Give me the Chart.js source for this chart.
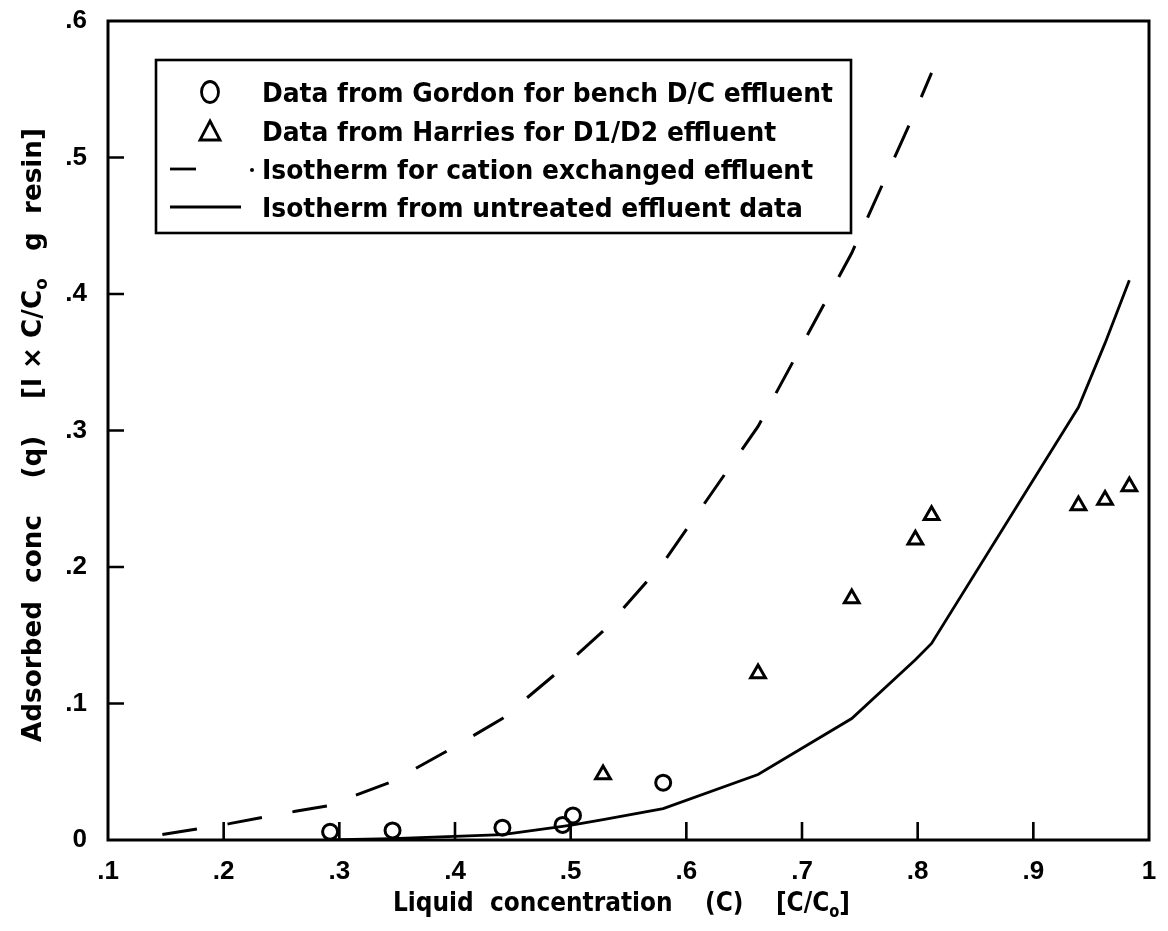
<!DOCTYPE html>
<html>
<head>
<meta charset="utf-8">
<script src="https://cdn.jsdelivr.net/npm/chart.js@4.4.1/dist/chart.umd.min.js"></script>
<style>
  html, body { margin: 0; padding: 0; background: #ffffff; }
  #wrap { width: 1168px; height: 931px; }
</style>
</head>
<body>
<div id="wrap"><canvas id="c" width="1168" height="931"></canvas></div>
<script>
// Axis ticks and their printed labels
const xTicks = [0.1, 0.2, 0.3, 0.4, 0.5, 0.6, 0.7, 0.8, 0.9, 1.0];
const xTickLabels = ['.1', '.2', '.3', '.4', '.5', '.6', '.7', '.8', '.9', '1'];
const yTicks = [0, 0.1, 0.2, 0.3, 0.4, 0.5, 0.6];
const yTickLabels = ['0', '.1', '.2', '.3', '.4', '.5', '.6'];

// Gordon, bench D/C effluent
const gordonC = [0.292, 0.346, 0.441, 0.493, 0.502, 0.580];
const gordonQ = [0.006, 0.007, 0.009, 0.011, 0.018, 0.042];

// Harries, D1/D2 effluent
const harriesC = [0.528, 0.662, 0.743, 0.798, 0.812, 0.939, 0.962, 0.983];
const harriesQ = [0.048, 0.122, 0.177, 0.220, 0.238, 0.245, 0.249, 0.259];

// Isotherm for cation exchanged effluent
const cationC = [0.147, 0.205, 0.262, 0.290, 0.346, 0.397, 0.441, 0.493, 0.502, 0.528, 0.580, 0.662, 0.743, 0.798, 0.812];
const cationQ = [0.004, 0.012, 0.021, 0.025, 0.043, 0.067, 0.089, 0.126, 0.133, 0.153, 0.203, 0.303, 0.430, 0.534, 0.562];

// Isotherm from untreated effluent data
const untreatedC = [0.290, 0.346, 0.441, 0.493, 0.502, 0.528, 0.580, 0.662, 0.743, 0.798, 0.812, 0.939, 0.962, 0.983];
const untreatedQ = [0.000, 0.001, 0.004, 0.010, 0.011, 0.015, 0.023, 0.048, 0.089, 0.132, 0.144, 0.317, 0.364, 0.410];

const legendLabels = [
  'Data from Gordon for bench D/C effluent',
  'Data from Harries for D1/D2 effluent',
  'Isotherm for cation exchanged effluent',
  'Isotherm from untreated effluent data'
];

const pts = (xs, ys) => xs.map((x, i) => ({ x: x, y: ys[i] }));

const INK = '#000000';
const TEXT_FONT = 'DejaVu Sans, Liberation Sans, sans-serif';

// Draw a run of text pieces (some as subscripts) squeezed to a target width
function drawRun(ctx, parts, x, y, size, targetWidth, weight) {
  const w = weight ? weight + ' ' : '';
  const mainFont = w + size + 'px ' + TEXT_FONT;
  const subFont = w + Math.round(size * 0.62) + 'px ' + TEXT_FONT;
  let natural = 0;
  parts.forEach(p => {
    ctx.font = p.sub ? subFont : mainFont;
    natural += ctx.measureText(p.t).width;
  });
  const sx = targetWidth ? targetWidth / natural : 1;
  ctx.save();
  ctx.translate(x, y);
  ctx.scale(sx, 1);
  let cx = 0;
  parts.forEach(p => {
    ctx.font = p.sub ? subFont : mainFont;
    ctx.fillText(p.t, cx, p.sub ? size * 0.22 : 0);
    cx += ctx.measureText(p.t).width;
  });
  ctx.restore();
}

const framePlugin = {
  id: 'frameAndNotes',
  afterDraw(chart) {
    const ctx = chart.ctx;
    const a = chart.chartArea;
    const xs = chart.scales.x, ys = chart.scales.y;
    ctx.save();
    ctx.strokeStyle = INK;
    ctx.fillStyle = INK;
    ctx.lineWidth = 3;
    ctx.lineCap = 'butt';

    // plot frame
    ctx.strokeRect(a.left, a.top, a.right - a.left, a.bottom - a.top);

    // inward tick marks on bottom and left axes
    ctx.lineWidth = 2.6;
    ctx.beginPath();
    xTicks.slice(1, -1).forEach(v => {
      const px = xs.getPixelForValue(v);
      ctx.moveTo(px, a.bottom);
      ctx.lineTo(px, a.bottom - 18);
    });
    yTicks.slice(1, -1).forEach(v => {
      const py = ys.getPixelForValue(v);
      ctx.moveTo(a.left, py);
      ctx.lineTo(a.left + 16, py);
    });
    ctx.stroke();

    // legend box
    const L = { left: 156, top: 60, right: 851, bottom: 233 };
    ctx.lineWidth = 2.6;
    ctx.strokeRect(L.left, L.top, L.right - L.left, L.bottom - L.top);

    const rowMid = [92, 131, 169, 207];
    const markX = 210;
    ctx.lineWidth = 2.8;
    // open circle symbol
    ctx.beginPath();
    ctx.ellipse(markX, rowMid[0], 8.5, 10.5, 0, 0, Math.PI * 2);
    ctx.stroke();
    // open triangle symbol
    ctx.beginPath();
    ctx.moveTo(markX, rowMid[1] - 10);
    ctx.lineTo(markX + 10, rowMid[1] + 9);
    ctx.lineTo(markX - 10, rowMid[1] + 9);
    ctx.closePath();
    ctx.stroke();
    // dashed sample
    ctx.beginPath();
    ctx.moveTo(170, rowMid[2]); ctx.lineTo(196, rowMid[2]);
    ctx.stroke();
    ctx.beginPath();
    ctx.arc(252, rowMid[2] + 1, 2, 0, Math.PI * 2);
    ctx.fill();
    // solid sample
    ctx.beginPath();
    ctx.moveTo(170, rowMid[3]); ctx.lineTo(241, rowMid[3]);
    ctx.stroke();

    // legend text, all rows squeezed with the same factor
    ctx.textBaseline = 'alphabetic';
    ctx.textAlign = 'left';
    const lsize = 27;
    ctx.font = 'bold ' + lsize + 'px ' + TEXT_FONT;
    const squeeze = 571 / ctx.measureText(legendLabels[0]).width;
    legendLabels.forEach((t, i) => {
      ctx.font = 'bold ' + lsize + 'px ' + TEXT_FONT;
      const w = ctx.measureText(t).width * squeeze;
      drawRun(ctx, [{ t: t }], 262, rowMid[i] + 10, lsize, w, 'bold');
    });

    // x-axis title
    drawRun(ctx, [
      { t: 'Liquid  concentration    (C)    [C/C' },
      { t: 'o', sub: true },
      { t: ']' }
    ], 393, 911, 27, 457, 'bold');

    // y-axis title, rotated so it reads bottom to top
    ctx.save();
    ctx.translate(41, 742);
    ctx.rotate(-Math.PI / 2);
    drawRun(ctx, [
      { t: 'Adsorbed  conc    (q)    [l × C/C' },
      { t: 'o', sub: true },
      { t: '   g  resin]' }
    ], 0, 0, 27, 614, 'bold');
    ctx.restore();

    ctx.restore();
  }
};

new Chart(document.getElementById('c'), {
  type: 'scatter',
  data: {
    datasets: [
      {
        label: legendLabels[0],
        data: pts(gordonC, gordonQ),
        pointStyle: 'circle',
        pointRadius: 7.5,
        pointBorderWidth: 3,
        pointBorderColor: INK,
        pointBackgroundColor: 'rgba(0,0,0,0)',
        showLine: false
      },
      {
        label: legendLabels[1],
        data: pts(harriesC, harriesQ),
        pointStyle: 'triangle',
        pointRadius: 8.5,
        pointBorderWidth: 3,
        pointBorderColor: INK,
        pointBackgroundColor: 'rgba(0,0,0,0)',
        showLine: false
      },
      {
        label: legendLabels[2],
        data: pts(cationC, cationQ),
        showLine: true,
        borderColor: INK,
        borderWidth: 3,
        borderDash: [35, 31],
        pointRadius: 0,
        tension: 0
      },
      {
        label: legendLabels[3],
        data: pts(untreatedC, untreatedQ),
        showLine: true,
        borderColor: INK,
        borderWidth: 2.8,
        pointRadius: 0,
        tension: 0
      }
    ]
  },
  options: {
    responsive: false,
    animation: false,
    layout: { padding: { top: 21, right: 19, left: 0, bottom: 0 } },
    plugins: {
      legend: { display: false },
      tooltip: { enabled: false }
    },
    scales: {
      x: {
        type: 'linear',
        min: 0.1,
        max: 1.0,
        afterBuildTicks: s => { s.ticks = xTicks.map(v => ({ value: v })); },
        afterFit: s => { s.height = 91; s.paddingLeft = 0; s.paddingRight = 0; },
        grid: { display: false, drawTicks: false },
        border: { display: false },
        ticks: {
          padding: 16,
          color: INK,
          maxRotation: 0,
          autoSkip: false,
          font: { family: 'Liberation Sans', size: 26, weight: 'bold' },
          callback: (v, i) => xTickLabels[i]
        }
      },
      y: {
        type: 'linear',
        min: 0,
        max: 0.6,
        afterBuildTicks: s => { s.ticks = yTicks.map(v => ({ value: v })); },
        afterFit: s => { s.width = 108; s.paddingTop = 0; s.paddingBottom = 0; },
        grid: { display: false, drawTicks: false },
        border: { display: false },
        ticks: {
          padding: 21,
          color: INK,
          autoSkip: false,
          font: { family: 'Liberation Sans', size: 26, weight: 'bold' },
          callback: (v, i) => yTickLabels[i]
        }
      }
    }
  },
  plugins: [framePlugin]
});
</script>
</body>
</html>
